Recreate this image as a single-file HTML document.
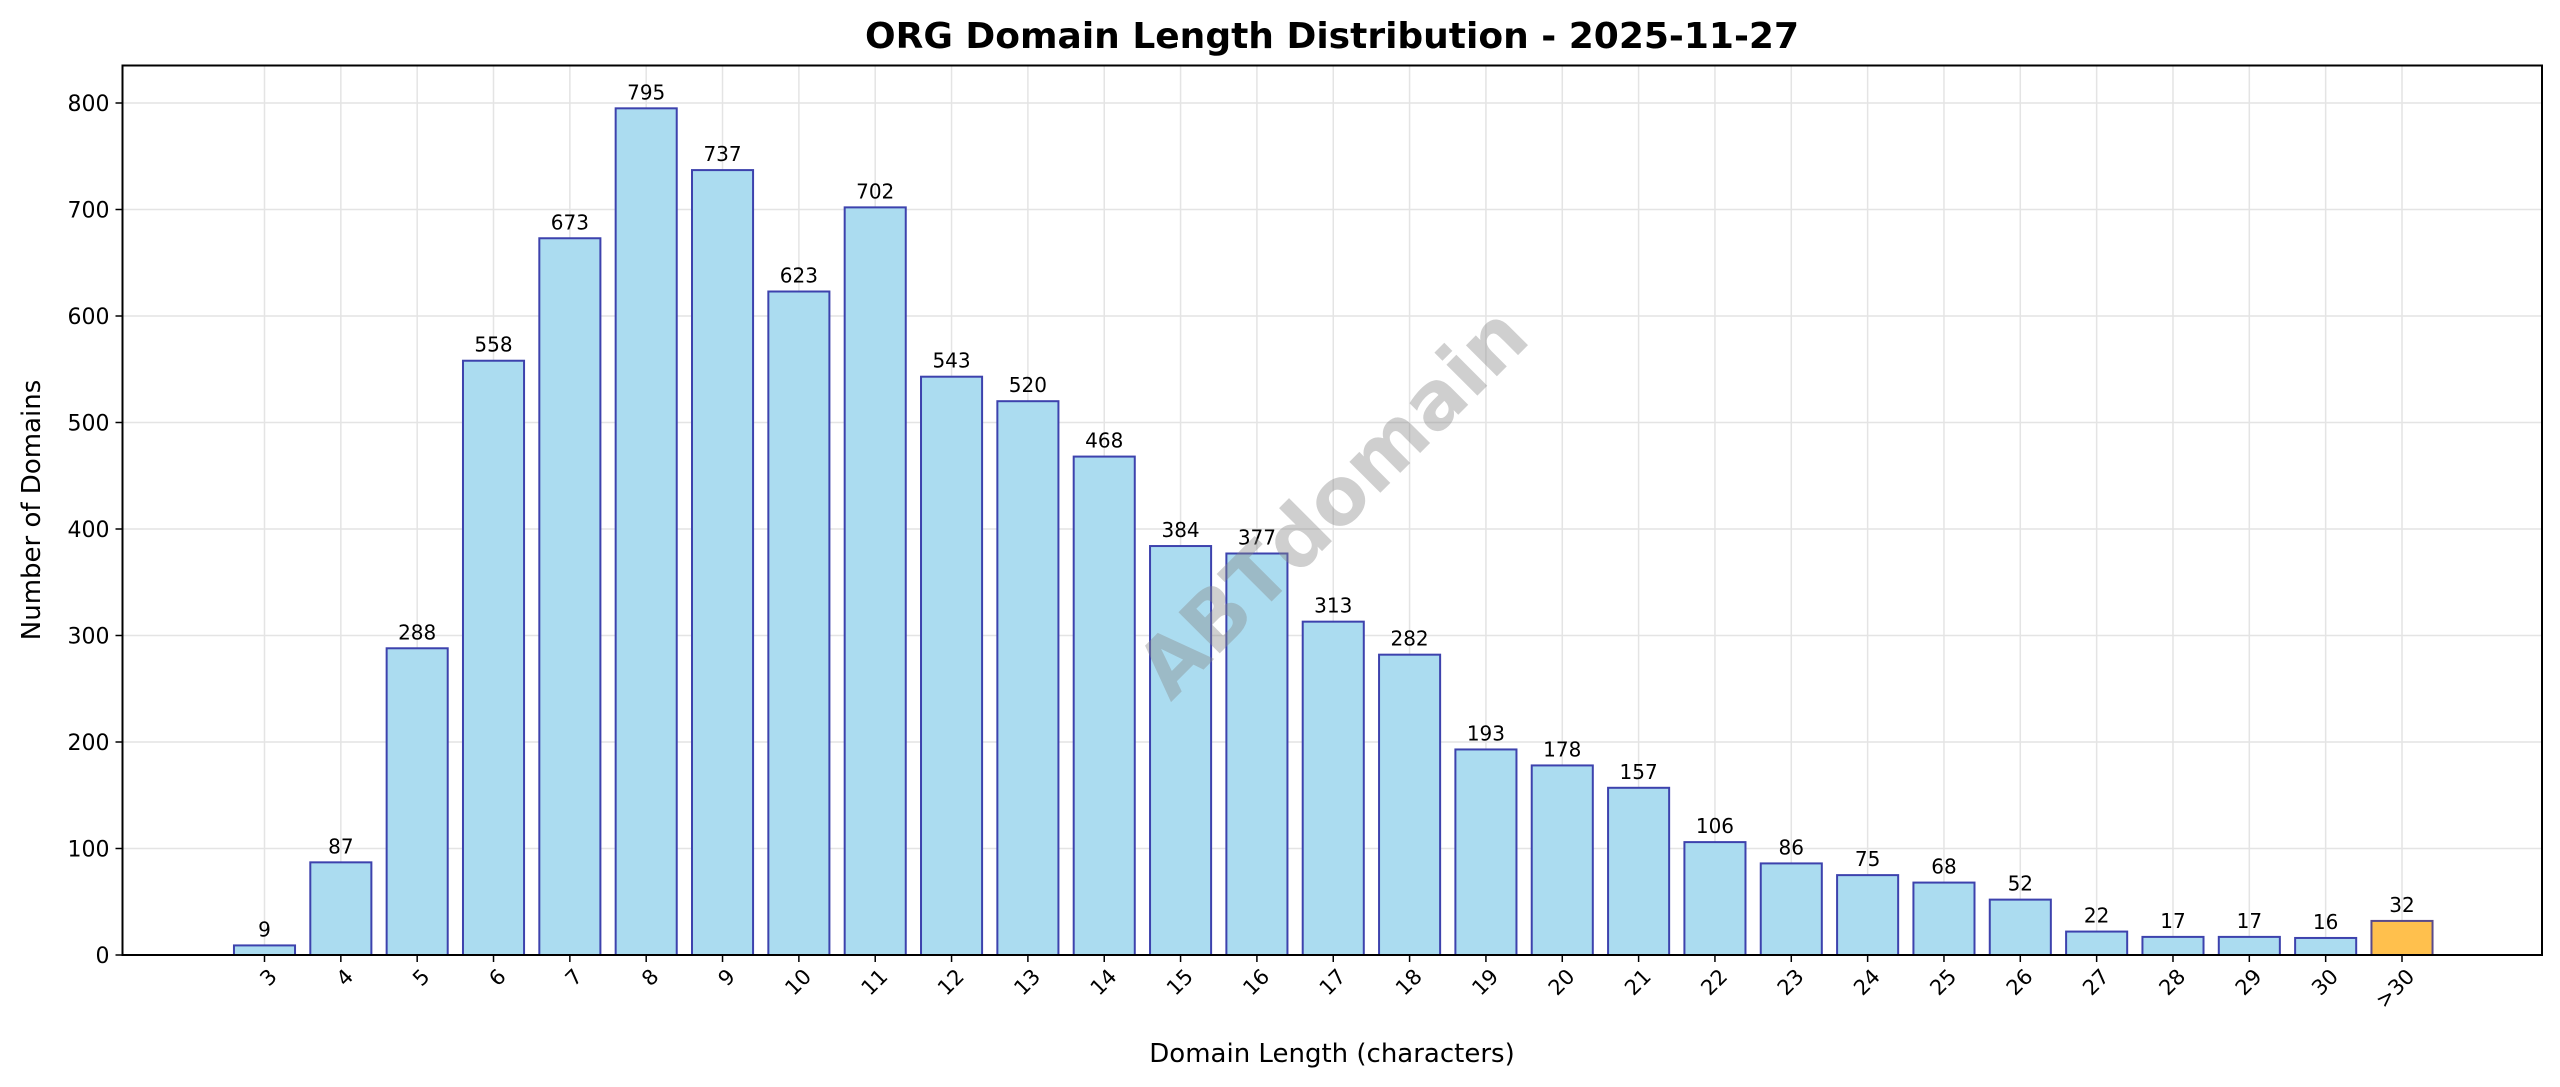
<!DOCTYPE html>
<html><head><meta charset="utf-8"><style>
html,body{margin:0;padding:0;background:#fff;}
svg{display:block;font-family:"DejaVu Sans","Liberation Sans",sans-serif;}
</style></head><body>
<svg id="chart" width="2560" height="1087" viewBox="0 0 2560 1087" xmlns="http://www.w3.org/2000/svg">
<rect width="2560" height="1087" fill="#fff"/>
<text x="1332" y="48" text-anchor="middle" font-size="36" font-weight="bold">ORG Domain Length Distribution - 2025-11-27</text>
<g id="grid"></g>
<g id="bars"></g>
<text x="1336" y="506" text-anchor="middle" dominant-baseline="middle" font-size="80" font-weight="bold" fill="#888" opacity="0.4" transform="rotate(-45 1336 506)">ABTdomain</text>
<rect x="122.5" y="65.5" width="2419.5" height="889.5" fill="none" stroke="#000" stroke-width="2"/>
<g id="axes"></g>
<text x="1332" y="1062" text-anchor="middle" font-size="26">Domain Length (characters)</text>
<text x="40" y="510" text-anchor="middle" font-size="26" transform="rotate(-90 40 510)">Number of Domains</text>
</svg>
<script>
const categories=["3","4","5","6","7","8","9","10","11","12","13","14","15","16","17","18","19","20","21","22","23","24","25","26","27","28","29","30",">30"];
const counts=[9,87,288,558,673,795,737,623,702,543,520,468,384,377,313,282,193,178,157,106,86,75,68,52,22,17,17,16,32];
const yTicks=[0,100,200,300,400,500,600,700,800];
const NS="http://www.w3.org/2000/svg";
const L=122.5,R=2542,T=65.5,B=955;
const n=categories.length;
const x0=264.5,x1=2402;
const step=(x1-x0)/(n-1);
function xScale(i){return x0+i*step;}
function yScale(v){return B-v*(B-103)/800;}
const bw=step*0.8;
const grid=document.getElementById('grid'),bars=document.getElementById('bars'),axes=document.getElementById('axes');
function mk(tag,attrs,parent){const e=document.createElementNS(NS,tag);for(const k in attrs)e.setAttribute(k,attrs[k]);parent.appendChild(e);return e;}
yTicks.forEach(v=>{
  const y=yScale(v);
  const g=mk('line',{x1:L,x2:R,y1:y,y2:y,stroke:'#e4e4e4','stroke-width':1.5},grid);
  
  
  const tk=mk('line',{x1:L-7,x2:L,y1:y,y2:y,stroke:'#000','stroke-width':1.5},axes);
  
  
  const t=mk('text',{x:L-13,y:y+8,'text-anchor':'end','font-size':22},axes);
  t.textContent=v;
  
  
});
categories.forEach((c,i)=>{
  const x=xScale(i);
  const g=mk('line',{x1:x,x2:x,y1:T,y2:B,stroke:'#e4e4e4','stroke-width':1.5},grid);
  
  
  const v=counts[i];
  const other=c===">30";
  const r=mk('rect',{x:x-bw/2,y:yScale(v),width:bw,height:B-yScale(v),fill:other?'#ffc04d':'#abdcf0',stroke:other?'#5a4a8a':'#3d42ad','stroke-width':2},bars);
  
  
  const lab=mk('text',{x:x,y:yScale(v)-9,'text-anchor':'middle','font-size':20},bars);
  lab.textContent=v;
  
  
  const tk=mk('line',{x1:x,x2:x,y1:B,y2:B+7,stroke:'#000','stroke-width':1.5},axes);
  
  
  const t=mk('text',{x:x+3,y:B+12,'text-anchor':'end','font-size':21,transform:`rotate(-45 ${x+3} ${B+12})`,'dominant-baseline':'hanging'},axes);
  t.textContent=c;
  
  
});
</script>
</body></html>
